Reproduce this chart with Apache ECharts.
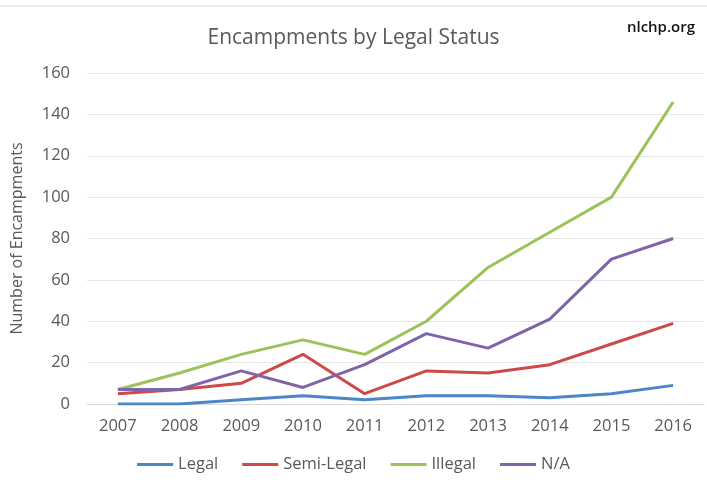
<!DOCTYPE html>
<html lang="en">
<head>
  <meta charset="UTF-8">
  <title>Encampments by Legal Status</title>
  <style>
    * { margin: 0; padding: 0; box-sizing: border-box; }
    body { background: #fff; }
    #chart { width: 707px; height: 497px; }
  </style>
</head>
<body>
  <div id="chart"></div>
  <script src="https://cdn.jsdelivr.net/npm/echarts@6/dist/echarts.min.js"></script>
  <script>
    const years = ['2007', '2008', '2009', '2010', '2011', '2012', '2013', '2014', '2015', '2016']
    const legal = [0, 0, 2, 4, 2, 4, 4, 3, 5, 9]
    const semiLegal = [5, 7, 10, 24, 5, 16, 15, 19, 29, 39]
    const illegal = [7, 15, 24, 31, 24, 40, 66, 83, 100, 146]
    const na = [7, 7, 16, 8, 19, 34, 27, 41, 70, 80]

    const font = '"Open Sans", sans-serif'
    const chart = echarts.init(document.getElementById('chart'))

    const line = (name, data, color) => ({
      name,
      type: 'line',
      data,
      symbol: 'none',
      lineStyle: { color, width: 3 },
      itemStyle: { color }
    })

    chart.setOption({
      animation: false,
      title: [
        {
          text: 'Encampments by Legal Status',
          left: 'center',
          top: 23,
          textStyle: { color: '#595959', fontSize: 21, fontWeight: 'normal', fontFamily: font }
        },
        {
          text: 'nlchp.org',
          right: 7,
          top: 15,
          textStyle: { color: '#111', fontSize: 15, fontWeight: 600, fontFamily: font }
        }
      ],
      graphic: [{
        type: 'line',
        shape: { x1: 0, y1: 6, x2: 707, y2: 6 },
        style: { stroke: '#d9d9d9', lineWidth: 1 }
      }],
      grid: { left: 87, right: 3, top: 73, bottom: 93 },
      legend: {
        bottom: 19,
        left: 'center',
        itemWidth: 36,
        itemHeight: 3,
        itemGap: 24,
        icon: 'rect',
        textStyle: { color: '#595959', fontSize: 16.5, fontFamily: font },
        data: ['Legal', 'Semi-Legal', 'Illegal', 'N/A']
      },
      xAxis: {
        type: 'category',
        data: years,
        boundaryGap: true,
        axisLine: { lineStyle: { color: '#d9d9d9' } },
        axisTick: { show: false },
        axisLabel: { color: '#595959', fontSize: 16.5, fontFamily: font, margin: 14 }
      },
      yAxis: {
        type: 'value',
        min: 0,
        max: 160,
        interval: 20,
        name: 'Number of Encampments',
        nameLocation: 'middle',
        nameGap: 62,
        nameTextStyle: { color: '#595959', fontSize: 16, fontFamily: font },
        axisLine: { show: false },
        axisTick: { show: false },
        axisLabel: { color: '#595959', fontSize: 16.5, fontFamily: font, margin: 17 },
        splitLine: { lineStyle: { color: '#e6e6e6' } }
      },
      series: [
        line('Legal', legal, '#4a86c8'),
        line('Semi-Legal', semiLegal, '#cc4a47'),
        line('Illegal', illegal, '#9bc35a'),
        line('N/A', na, '#8064a8')
      ]
    })
  </script>
</body>
</html>
